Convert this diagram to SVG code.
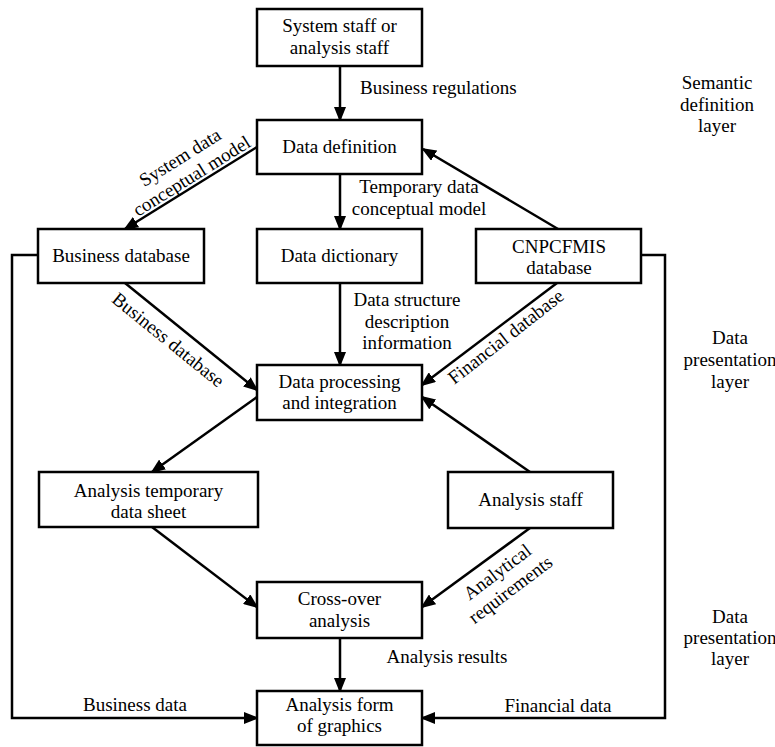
<svg xmlns="http://www.w3.org/2000/svg" width="775" height="747" viewBox="0 0 775 747">
<defs>
<marker id="ah" markerUnits="userSpaceOnUse" markerWidth="15" markerHeight="12" refX="13" refY="6" orient="auto">
<path d="M0,0 L15,6 L0,12 z" fill="#000"/>
</marker>
<style>
.box{fill:#fff;stroke:#000;stroke-width:2.5}
text{font-family:"Liberation Serif","Times New Roman",serif;font-size:19px;fill:#000}
.c{text-anchor:middle}
.ln{fill:none;stroke:#000;stroke-width:2.5;marker-end:url(#ah)}
</style>
</defs>
<rect width="775" height="747" fill="#fff"/>
<g id="connectors">
<line class="ln" x1="340" y1="66" x2="340" y2="120"/>
<line class="ln" x1="257" y1="147" x2="125" y2="229"/>
<line class="ln" x1="340" y1="174" x2="340" y2="229"/>
<line class="ln" x1="558" y1="229" x2="423" y2="149"/>
<line class="ln" x1="125" y1="283" x2="257" y2="390"/>
<line class="ln" x1="340" y1="283" x2="340" y2="365"/>
<line class="ln" x1="557" y1="283" x2="422" y2="385"/>
<line class="ln" x1="530" y1="472" x2="422" y2="397"/>
<line class="ln" x1="257" y1="397" x2="152" y2="472"/>
<line class="ln" x1="152" y1="527" x2="257" y2="607"/>
<line class="ln" x1="530" y1="528" x2="422" y2="607"/>
<line class="ln" x1="340" y1="638" x2="340" y2="691"/>
<polyline class="ln" points="38,255 12,255 12,718 257,718"/>
<polyline class="ln" points="641,255 665,255 665,718 422,718"/>
<text x="360" y="94">Business regulations</text>
<g transform="translate(186,167) rotate(-32)"><text class="c" x="0" y="-5">System data</text><text class="c" x="0" y="17">conceptual model</text></g>
<text class="c" x="419" y="193">Temporary data</text>
<text class="c" x="419" y="215">conceptual model</text>
<g transform="translate(168,340) rotate(39)"><text class="c" x="0" y="6">Business database</text></g>
<text class="c" x="407" y="306">Data structure</text>
<text class="c" x="407" y="328">description</text>
<text class="c" x="407" y="349">information</text>
<g transform="translate(506,337) rotate(-38)"><text class="c" x="0" y="6">Financial database</text></g>
<g transform="translate(504,581) rotate(-37)"><text class="c" x="0" y="-5">Analytical</text><text class="c" x="0" y="17">requirements</text></g>
<text class="c" x="447" y="663">Analysis results</text>
<text class="c" x="135" y="711">Business data</text>
<text class="c" x="558" y="712">Financial data</text>
</g>
<g id="n1"><rect class="box" x="257" y="9" width="165" height="57"/><text class="c" x="339.5" y="32">System staff or</text><text class="c" x="339.5" y="54">analysis staff</text></g>
<g id="n2"><rect class="box" x="257" y="120" width="165" height="54"/><text class="c" x="339.5" y="153">Data definition</text></g>
<g id="n3"><rect class="box" x="38" y="229" width="166" height="54"/><text class="c" x="121" y="262">Business database</text></g>
<g id="n4"><rect class="box" x="257" y="229" width="165" height="54"/><text class="c" x="339.5" y="262">Data dictionary</text></g>
<g id="n5"><rect class="box" x="476" y="229" width="165" height="54"/><text class="c" x="559" y="253">CNPCFMIS</text><text class="c" x="559" y="274">database</text></g>
<g id="n6"><rect class="box" x="257" y="365" width="165" height="55"/><text class="c" x="339.5" y="388">Data processing</text><text class="c" x="339.5" y="409">and integration</text></g>
<g id="n7"><rect class="box" x="39" y="472" width="219" height="55"/><text class="c" x="148.5" y="497">Analysis temporary</text><text class="c" x="148.5" y="518">data sheet</text></g>
<g id="n8"><rect class="box" x="448" y="472" width="165" height="56"/><text class="c" x="530.5" y="506">Analysis staff</text></g>
<g id="n9"><rect class="box" x="257" y="582" width="165" height="56"/><text class="c" x="339.5" y="605">Cross-over</text><text class="c" x="339.5" y="627">analysis</text></g>
<g id="n10"><rect class="box" x="257" y="691" width="165" height="54"/><text class="c" x="339.5" y="711">Analysis form</text><text class="c" x="339.5" y="732">of graphics</text></g>
<g id="layers">
<text class="c" x="717" y="89">Semantic</text><text class="c" x="717" y="111">definition</text><text class="c" x="717" y="132">layer</text>
<text class="c" x="730" y="344">Data</text><text class="c" x="730" y="366">presentation</text><text class="c" x="730" y="388">layer</text>
<text class="c" x="730" y="623">Data</text><text class="c" x="730" y="644">presentation</text><text class="c" x="730" y="665">layer</text>
</g>
</svg>
